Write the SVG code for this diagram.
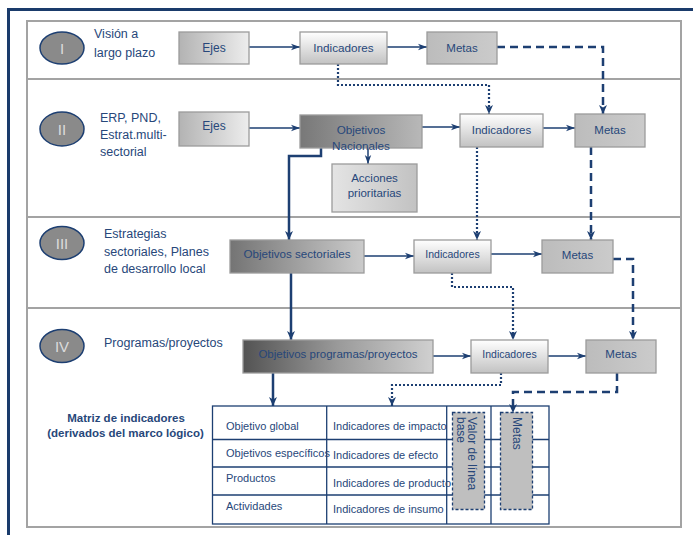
<svg xmlns="http://www.w3.org/2000/svg" width="693" height="535" viewBox="0 0 693 535">
<defs>
<linearGradient id="gEjes" x1="0" y1="0" x2="1" y2="0"><stop offset="0" stop-color="#b3b3b3"/><stop offset="1" stop-color="#ededed"/></linearGradient>
<linearGradient id="gInd" x1="0" y1="0" x2="0" y2="1"><stop offset="0" stop-color="#ffffff"/><stop offset="1" stop-color="#c2c2c2"/></linearGradient>
<linearGradient id="gMetas" x1="0" y1="0" x2="1" y2="0"><stop offset="0" stop-color="#bcbcbc"/><stop offset="1" stop-color="#cbcbcb"/></linearGradient>
<linearGradient id="gNac" x1="0" y1="0" x2="1" y2="0"><stop offset="0" stop-color="#787878"/><stop offset="1" stop-color="#b8b8b8"/></linearGradient>
<linearGradient id="gAcc" x1="0" y1="0" x2="1" y2="0"><stop offset="0" stop-color="#e4e4e4"/><stop offset="1" stop-color="#c2c2c2"/></linearGradient>
<linearGradient id="gSect" x1="0" y1="0" x2="1" y2="0"><stop offset="0" stop-color="#747474"/><stop offset="1" stop-color="#cbcbcb"/></linearGradient>
<linearGradient id="gProg" x1="0" y1="0" x2="1" y2="0"><stop offset="0" stop-color="#535353"/><stop offset="0.5" stop-color="#9a9a9a"/><stop offset="1" stop-color="#d0d0d0"/></linearGradient>
<marker id="ah" markerUnits="userSpaceOnUse" markerWidth="10" markerHeight="8" refX="9" refY="4" orient="auto"><path d="M0,0.8 L9,4 L0,7.2 L2.5,4 Z" fill="#1d3f72"/></marker>
<marker id="ahB" markerUnits="userSpaceOnUse" markerWidth="10" markerHeight="10" refX="9" refY="5" orient="auto"><path d="M0,1 L9,5 L0,9 L2.5,5 Z" fill="#1d3f72"/></marker>
</defs>
<style>
.box{stroke:#9b9b9b;stroke-width:1.3}
.bt{font-family:"Liberation Sans",Arial,sans-serif;fill:#27477a;text-anchor:middle}
.lab{font-family:"Liberation Sans",Arial,sans-serif;fill:#27477a;font-size:12.5px}
.ell{fill:#8a8a8a;stroke:#1d3f72;stroke-width:1.5}
.et{font-family:"Liberation Sans",Arial,sans-serif;fill:#dcdcdc;font-size:15px;text-anchor:middle}
.c{fill:none;stroke:#1d3f72;stroke-width:1.5}
.thick{stroke-width:2.5}
.dot{stroke-width:2.2;stroke-dasharray:2 2}
.dash{stroke-width:2.5;stroke-dasharray:8 5}
.tl{fill:none;stroke:#1d3f72;stroke-width:1.3}
.tt{font-family:"Liberation Sans",Arial,sans-serif;fill:#27477a;font-size:11px}
.vb{fill:#bfbfbf;stroke:#1d3f72;stroke-width:1.3;stroke-dasharray:3 2}
</style>
<rect width="693" height="535" fill="#ffffff"/>
<g id="frame">
<rect x="8.5" y="9.5" width="700" height="540" fill="none" stroke="#1a3b6b" stroke-width="3"/>
<rect x="27" y="21" width="654" height="506" fill="none" stroke="#a3a3a3" stroke-width="2"/>
<line x1="27" y1="79" x2="681" y2="79" stroke="#a3a3a3" stroke-width="2"/>
<line x1="27" y1="217" x2="681" y2="217" stroke="#a3a3a3" stroke-width="2"/>
<line x1="27" y1="308" x2="681" y2="308" stroke="#a3a3a3" stroke-width="2"/>
</g>
<g id="levels">
<g id="level-I"><ellipse class="ell" cx="62" cy="48" rx="22" ry="16"/><text class="et" x="62" y="53.5">I</text>
<text class="lab" x="94" y="38">Visión a</text><text class="lab" x="94" y="57">largo plazo</text></g>
<g id="level-II"><ellipse class="ell" cx="62" cy="129" rx="22" ry="17"/><text class="et" x="62" y="134.5">II</text>
<text class="lab" x="100" y="122">ERP, PND,</text><text class="lab" x="100" y="139">Estrat.multi-</text><text class="lab" x="100" y="156">sectorial</text></g>
<g id="level-III"><ellipse class="ell" cx="62" cy="243" rx="22" ry="16.5"/><text class="et" x="62" y="248.5">III</text>
<text class="lab" x="104" y="238">Estrategias</text><text class="lab" x="104" y="255.5">sectoriales, Planes</text><text class="lab" x="104" y="273">de desarrollo local</text></g>
<g id="level-IV"><ellipse class="ell" cx="62" cy="346" rx="22" ry="16.5"/><text class="et" x="62" y="351.5">IV</text>
<text class="lab" x="104" y="347">Programas/proyectos</text></g>
</g>
<g id="connectors">
<path class="c" d="M249,47 H300" marker-end="url(#ah)"/>
<path class="c" d="M387,47 H427" marker-end="url(#ah)"/>
<path class="c dash" d="M497,47 H603 V114" marker-end="url(#ahB)"/>
<path class="c dot" d="M338,64 V85 H489 V114" marker-end="url(#ahB)"/>
<path class="c" d="M249,128 H300" marker-end="url(#ah)"/>
<path class="c" d="M422,127 H460" marker-end="url(#ah)"/>
<path class="c" d="M543,128 H575" marker-end="url(#ah)"/>
<path class="c" d="M368,148 V164" marker-end="url(#ah)"/>
<path class="c thick" d="M321,148 V156 H289 V240" marker-end="url(#ahB)"/>
<path class="c dot" d="M477,147 V240" marker-end="url(#ahB)"/>
<path class="c dash" d="M591,147 V240" marker-end="url(#ahB)"/>
<path class="c" d="M364,256 H414" marker-end="url(#ah)"/>
<path class="c" d="M491,254 H542" marker-end="url(#ah)"/>
<path class="c dot" d="M452,273 V287 H513 V340" marker-end="url(#ahB)"/>
<path class="c dash" d="M613,259 H633 V340" marker-end="url(#ahB)"/>
<path class="c thick" d="M291,273 V340" marker-end="url(#ahB)"/>
<path class="c" d="M433,356 H471" marker-end="url(#ah)"/>
<path class="c" d="M548,356 H586" marker-end="url(#ah)"/>
<path class="c thick" d="M273,373 V406" marker-end="url(#ahB)"/>
<path class="c dot" d="M501,373 V385 H392 V406" marker-end="url(#ahB)"/>
<path class="c dash" d="M617,373 V392 H513 V413" marker-end="url(#ahB)"/>
</g>
<g id="n-ejes1"><rect class="box" x="179" y="32" width="70" height="32" fill="url(#gEjes)"/><text class="bt" x="214" y="52" font-size="12">Ejes</text></g>
<g id="n-ind1"><rect class="box" x="300" y="32" width="87" height="32" fill="url(#gInd)"/><text class="bt" x="343.5" y="52" font-size="11.7">Indicadores</text></g>
<g id="n-metas1"><rect class="box" x="427" y="32" width="70" height="32" fill="url(#gMetas)"/><text class="bt" x="462" y="52" font-size="11.5">Metas</text></g>
<g id="n-ejes2"><rect class="box" x="179" y="112" width="70" height="34" fill="url(#gEjes)"/><text class="bt" x="214" y="130" font-size="12">Ejes</text></g>
<g id="n-objnac"><rect class="box" x="300" y="115" width="122" height="33" fill="url(#gNac)"/><text class="bt" x="361" y="134" font-size="11.7">Objetivos</text><text class="bt" x="361" y="149.5" font-size="11.7">Nacionales</text></g>
<g id="n-acciones"><rect class="box" x="332" y="164" width="85" height="48" fill="url(#gAcc)"/><text class="bt" x="374.5" y="182" font-size="11.5">Acciones</text><text class="bt" x="374.5" y="196.5" font-size="11.5">prioritarias</text></g>
<g id="n-ind2"><rect class="box" x="460" y="114" width="83" height="33" fill="url(#gInd)"/><text class="bt" x="501.5" y="133.5" font-size="11.5">Indicadores</text></g>
<g id="n-metas2"><rect class="box" x="575" y="114" width="70" height="33" fill="url(#gMetas)"/><text class="bt" x="610" y="133.5" font-size="11.5">Metas</text></g>
<g id="n-objsect"><rect class="box" x="230" y="240" width="134" height="33" fill="url(#gSect)"/><text class="bt" x="297" y="257.5" font-size="11.6">Objetivos sectoriales</text></g>
<g id="n-ind3"><rect class="box" x="414" y="240" width="77" height="33" fill="url(#gInd)"/><text class="bt" x="452.5" y="257.5" font-size="10.5">Indicadores</text></g>
<g id="n-metas3"><rect class="box" x="542" y="240" width="71" height="33" fill="url(#gMetas)"/><text class="bt" x="577.5" y="259" font-size="11.5">Metas</text></g>
<g id="n-objprog"><rect class="box" x="243" y="340" width="190" height="33" fill="url(#gProg)"/><text class="bt" x="338" y="358" font-size="11.5">Objetivos programas/proyectos</text></g>
<g id="n-ind4"><rect class="box" x="471" y="340" width="77" height="33" fill="url(#gInd)"/><text class="bt" x="509.5" y="358" font-size="10.5">Indicadores</text></g>
<g id="n-metas4"><rect class="box" x="586" y="340" width="70" height="33" fill="url(#gMetas)"/><text class="bt" x="621" y="358" font-size="11.5">Metas</text></g>
<g id="matriz">
<text x="126" y="422" font-family="Liberation Sans, Arial, sans-serif" font-size="11.5" font-weight="bold" fill="#27477a" text-anchor="middle">Matriz de indicadores</text>
<text x="125.5" y="437" font-family="Liberation Sans, Arial, sans-serif" font-size="11.5" font-weight="bold" fill="#27477a" text-anchor="middle">(derivados del marco lógico)</text>
<rect class="tl" x="212.5" y="406" width="336.5" height="118"/>
<line class="tl" x1="326.7" y1="406" x2="326.7" y2="524"/>
<line class="tl" x1="446.7" y1="406" x2="446.7" y2="524"/>
<line class="tl" x1="491" y1="406" x2="491" y2="524"/>
<line class="tl" x1="212.5" y1="439.5" x2="549" y2="439.5"/>
<line class="tl" x1="212.5" y1="467" x2="549" y2="467"/>
<line class="tl" x1="212.5" y1="495" x2="549" y2="495"/>
<text class="tt" x="226" y="430">Objetivo global</text>
<text class="tt" x="226" y="457">Objetivos específicos</text>
<text class="tt" x="226" y="482">Productos</text>
<text class="tt" x="226" y="509.5">Actividades</text>
<text class="tt" x="333" y="429.5">Indicadores de impacto</text>
<text class="tt" x="333" y="458.5">Indicadores de efecto</text>
<text class="tt" x="333" y="486.5">Indicadores de producto</text>
<text class="tt" x="333" y="513">Indicadores de insumo</text>
<rect class="vb" x="452.5" y="412.5" width="32" height="97"/>
<rect class="vb" x="500.5" y="412.5" width="32" height="97"/>
<text transform="translate(468,417) rotate(90)" font-family="Liberation Sans, Arial, sans-serif" font-size="12" fill="#27477a"><tspan x="0" y="0">Valor de línea</tspan><tspan x="0" y="11">base</tspan></text>
<text transform="translate(513,417) rotate(90)" font-family="Liberation Sans, Arial, sans-serif" font-size="12" fill="#27477a">Metas</text>
</g>
</svg>
